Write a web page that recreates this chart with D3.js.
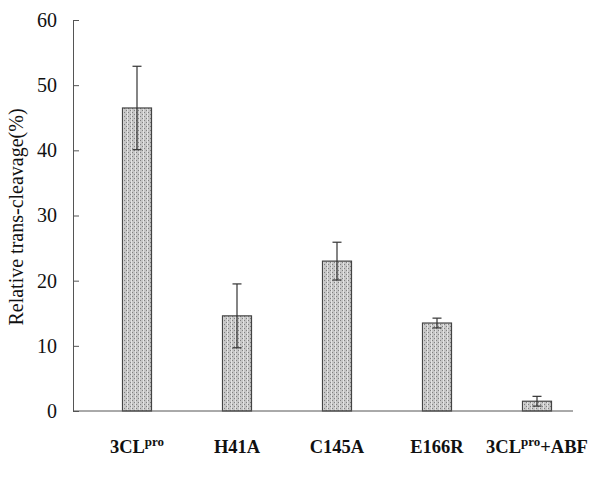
<!DOCTYPE html>
<html>
<head>
<meta charset="utf-8">
<script src="https://cdn.jsdelivr.net/npm/d3@7"></script>
<style>
    body{ margin: 0; background: #fff; }
    svg text{ font-family: "Liberation Serif", "Times New Roman", serif; fill: #111; }
</style>
</head>
<body>
<div id="chart"></div>
<script>
// values
const categories = ["3CL", "H41A", "C145A", "E166R", "3CL+ABF"];
const values = [46.5, 14.6, 23.0, 13.5, 1.5];
const errors = [6.4, 4.9, 2.9, 0.75, 0.75];
const yTicks = [0, 10, 20, 30, 40, 50, 60];

const wSvg = 592, hSvg = 504;
const svg = d3.select("#chart").append("svg")
    .attr("width", wSvg)
    .attr("height", hSvg);

const defs = svg.append("defs");
const pat = defs.append("pattern")
    .attr("id", "stipple")
    .attr("patternUnits", "userSpaceOnUse")
    .attr("width", 4).attr("height", 4);
pat.append("rect").attr("width", 4).attr("height", 4).attr("fill", "#c6c6c6");
pat.append("rect").attr("x", 0).attr("y", 0).attr("width", 1).attr("height", 1).attr("fill", "#808080");
pat.append("rect").attr("x", 2).attr("y", 2).attr("width", 1).attr("height", 1).attr("fill", "#808080");
pat.append("rect").attr("x", 3).attr("y", 0).attr("width", 1).attr("height", 4).attr("fill", "#e2e2e2");

const xScale = d3.scaleBand()
    .domain(categories)
    .range([87, 587])
    .paddingInner(0.71)
    .paddingOuter(0.355);

const yScale = d3.scaleLinear()
    .domain([0, 60])
    .range([411, 20]);

const axisX = 73;

// bars
svg.append("g").selectAll("rect")
    .data(values)
    .enter().append("rect")
        .attr("x", (d, i) => xScale(categories[i]))
        .attr("y", d => yScale(d))
        .attr("width", xScale.bandwidth())
        .attr("height", d => yScale(0) - yScale(d))
        .attr("fill", "url(#stipple)")
        .attr("stroke", "#444")
        .attr("stroke-width", 1.2);

// error bars
const errG = svg.append("g").attr("stroke", "#333").attr("stroke-width", 1.2);
values.forEach((v, i) => {
    const cx = xScale(categories[i]) + xScale.bandwidth() / 2;
    const top = yScale(v + errors[i]), bot = yScale(v - errors[i]);
    errG.append("line").attr("x1", cx).attr("x2", cx).attr("y1", top).attr("y2", bot);
    errG.append("line").attr("x1", cx - 4.5).attr("x2", cx + 4.5).attr("y1", top).attr("y2", top);
    errG.append("line").attr("x1", cx - 4.5).attr("x2", cx + 4.5).attr("y1", bot).attr("y2", bot);
});

// y axis, ticks pointing inward
const yAxis = d3.axisLeft(yScale)
    .tickValues(yTicks)
    .tickSize(-6)
    .tickPadding(16)
    .tickSizeOuter(0);
const yG = svg.append("g")
    .attr("transform", `translate(${axisX},0)`)
    .call(yAxis);
yG.select(".domain").attr("stroke", "#555");
yG.selectAll(".tick line").attr("stroke", "#555");
yG.selectAll(".tick text")
    .attr("font-size", 20)
    .attr("font-family", "Liberation Serif")
    .attr("fill", "#111");

// baseline
svg.append("line")
    .attr("x1", axisX).attr("x2", 573)
    .attr("y1", yScale(0)).attr("y2", yScale(0))
    .attr("stroke", "#555");

// category labels
const labG = svg.append("g");
categories.forEach((c, i) => {
    const cx = xScale(c) + xScale.bandwidth() / 2;
    const t = labG.append("text")
        .attr("x", cx).attr("y", 453)
        .attr("text-anchor", "middle")
        .attr("font-size", 18.5)
        .attr("font-weight", "bold");
    if(c.startsWith("3CL")){
        t.append("tspan").text("3CL");
        t.append("tspan").text("pro").attr("dy", -7).attr("font-size", 13);
        if(c.endsWith("ABF")) t.append("tspan").text("+ABF").attr("dy", 7);
    } else {
        t.text(c);
    }
});

// y title
svg.append("text")
    .attr("transform", `translate(23,217) rotate(-90)`)
    .attr("text-anchor", "middle")
    .attr("font-size", 20)
    .text("Relative trans-cleavage(%)");
</script>
</body>
</html>
